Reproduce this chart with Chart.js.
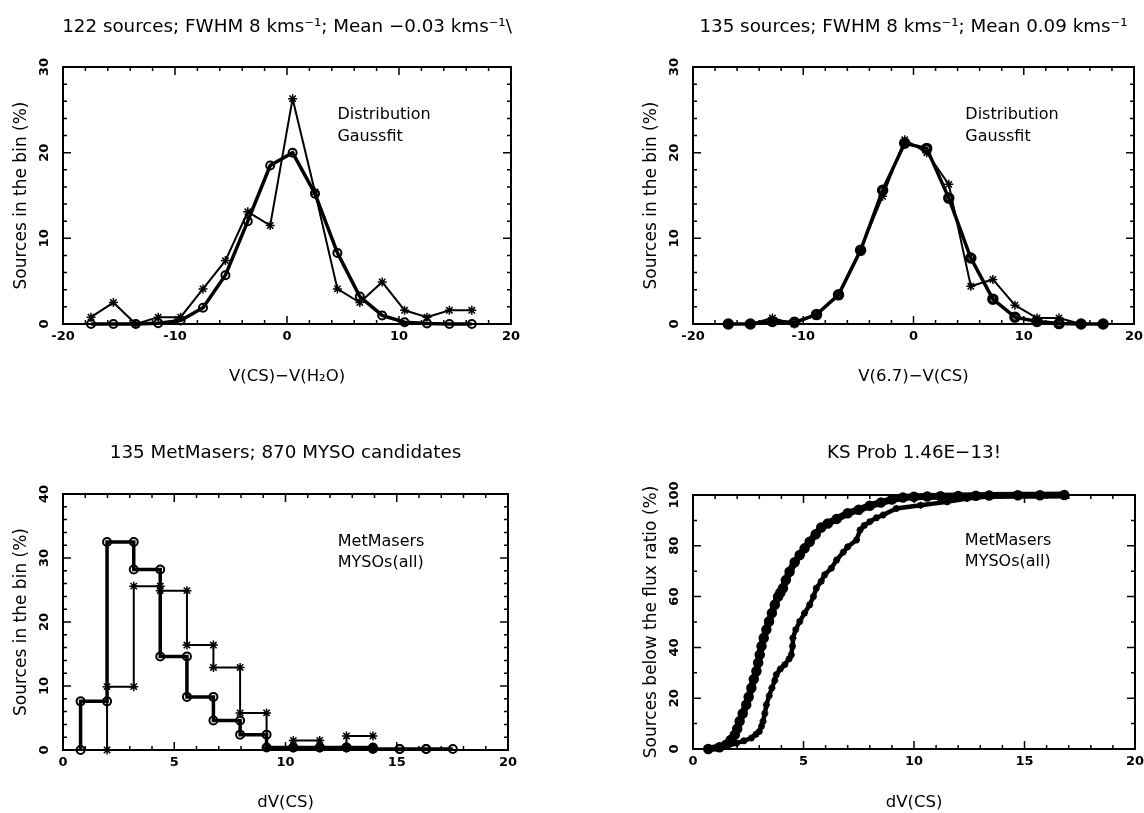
<!DOCTYPE html>
<html>
<head>
<meta charset="utf-8">
<script src="https://cdn.jsdelivr.net/npm/chart.js@4/dist/chart.umd.min.js"></script>
<style>
  html, body { margin: 0; padding: 0; background: #fff; }
  body { width: 1144px; height: 813px; position: relative; overflow: hidden; }
  canvas { position: absolute; }
</style>
</head>
<body>
<canvas id="c1" width="574" height="406" style="left:0px;top:0px"></canvas>
<canvas id="c2" width="567" height="406" style="left:630px;top:0px"></canvas>
<canvas id="c3" width="571" height="407" style="left:0px;top:406px"></canvas>
<canvas id="c4" width="568" height="407" style="left:630px;top:406px"></canvas>
<script>
// ---------------- DATA ----------------
// Panel 1: V(CS)-V(H2O)
const P1_TITLE = "122 sources; FWHM 8 kms\u207B\u00B9; Mean \u22120.03 kms\u207B\u00B9\\";
const P1_XLABEL = "V(CS)\u2212V(H\u2082O)";
const P1_BINS = [-17.5, -15.5, -13.5, -11.5, -9.5, -7.5, -5.5, -3.5, -1.5, 0.5, 2.5, 4.5, 6.5, 8.5, 10.5, 12.5, 14.5, 16.5];
const P1_DIST = [0.8, 2.5, 0, 0.8, 0.8, 4.1, 7.4, 13.1, 11.5, 26.3, 15.4, 4.1, 2.5, 4.9, 1.6, 0.8, 1.6, 1.6];
const P1_GAUSS = [0, 0, 0, 0.1, 0.4, 1.9, 5.7, 12.0, 18.5, 20.0, 15.2, 8.3, 3.2, 1.0, 0.2, 0.05, 0, 0];
const P1_XTICKS = [-20, -10, 0, 10, 20];
const P1_YTICKS = [0, 10, 20, 30];

// Panel 2: V(6.7)-V(CS)
const P2_TITLE = "135 sources; FWHM 8 kms\u207B\u00B9; Mean 0.09 kms\u207B\u00B9";
const P2_XLABEL = "V(6.7)\u2212V(CS)";
const P2_BINS = [-16.8, -14.8, -12.8, -10.8, -8.8, -6.8, -4.8, -2.8, -0.8, 1.2, 3.2, 5.2, 7.2, 9.2, 11.2, 13.2, 15.2, 17.2];
const P2_DIST = [0, 0, 0.7, 0, 1.1, 3.5, 8.7, 14.9, 21.5, 20.0, 16.3, 4.4, 5.2, 2.2, 0.7, 0.7, 0, 0];
const P2_GAUSS = [0, 0, 0.3, 0.2, 1.1, 3.4, 8.6, 15.6, 21.1, 20.5, 14.7, 7.7, 2.9, 0.8, 0.3, 0.05, 0, 0];
const P2_XTICKS = [-20, -10, 0, 10, 20];
const P2_YTICKS = [0, 10, 20, 30];

// Panel 3: histogram of dV(CS)
const P3_TITLE = "135 MetMasers; 870 MYSO candidates";
const P3_XLABEL = "dV(CS)";
const P3_MET_EDGES = [0.79, 1.98, 3.18, 4.37, 5.57, 6.76, 7.96, 9.15, 10.35, 11.54, 12.74, 13.93, 15.13, 16.32, 17.52];
const P3_MET_VALS = [7.6, 32.5, 28.2, 14.6, 8.3, 4.6, 2.4, 0.4, 0.4, 0.4, 0.4, 0.15, 0.15, 0.15];
const P3_MYSO_EDGES = [1.98, 3.18, 4.37, 5.57, 6.76, 7.96, 9.15, 10.35, 11.54, 12.74, 13.93];
const P3_MYSO_VALS = [9.9, 25.6, 24.9, 16.4, 12.9, 5.8, 0.4, 1.5, 0.4, 2.2];
const P3_XTICKS = [0, 5, 10, 15, 20];
const P3_YTICKS = [0, 10, 20, 30, 40];

// Panel 4: cumulative distributions of dV(CS)
const P4_TITLE = "KS Prob 1.46E\u221213!";
const P4_XLABEL = "dV(CS)";
const P4_MET_X = [0.69, 1.2, 1.5, 1.7, 1.89, 2.0, 2.11, 2.25, 2.41, 2.52, 2.64, 2.75, 2.87, 2.95, 3.02, 3.1, 3.2, 3.32, 3.44, 3.57, 3.7, 3.85, 3.95, 4.07, 4.2, 4.37, 4.6, 4.83, 5.05, 5.28, 5.55, 5.8, 6.1, 6.5, 7.0, 7.5, 8.0, 8.5, 9.0, 9.5, 10.0, 10.6, 11.2, 12.0, 12.8, 13.4, 14.7, 15.7, 16.8];
const P4_MET_Y = [0, 0.7, 1.7, 3.5, 5.6, 8.0, 10.9, 14.0, 17.4, 20.5, 24.0, 27.5, 30.6, 34.0, 37.1, 40.5, 43.7, 47.0, 50.2, 53.5, 56.8, 60.0, 61.5, 63.3, 66.5, 69.8, 73.5, 76.4, 79.0, 81.6, 84.5, 87.2, 88.8, 90.6, 92.8, 94.2, 95.8, 97.0, 98.2, 99.0, 99.3, 99.4, 99.5, 99.6, 99.7, 99.8, 99.9, 99.9, 100];
const P4_MYSO_X = [1.07, 1.5, 1.97, 2.3, 2.64, 2.85, 3.0, 3.1, 3.17, 3.25, 3.32, 3.45, 3.57, 3.7, 3.77, 3.95, 4.15, 4.35, 4.45, 4.5, 4.52, 4.65, 4.83, 5.05, 5.28, 5.45, 5.58, 5.8, 5.96, 6.26, 6.5, 6.8, 7.0, 7.4, 7.56, 7.75, 8.0, 8.3, 8.6, 9.2, 10.3, 11.5, 12.4, 13.4];
const P4_MYSO_Y = [0.3, 1.0, 2.3, 3.2, 4.3, 5.8, 6.9, 9.0, 10.9, 14.0, 17.4, 21.0, 24.0, 27.0, 29.3, 31.5, 33.2, 35.5, 37.1, 40.5, 43.7, 47.0, 50.2, 53.5, 56.8, 60.0, 63.3, 66.0, 68.6, 71.2, 74.4, 77.5, 79.6, 82.3, 86.2, 88.0, 89.5, 91.0, 92.1, 94.7, 96.0, 97.3, 98.6, 99.5];
const P4_XTICKS = [0, 5, 10, 15, 20];
const P4_YTICKS = [0, 20, 40, 60, 80, 100];

// ---------------- STYLE / HELPERS ----------------
const FONT = "'DejaVu Sans', sans-serif";
const TICKFONT = "'DejaVu Sans', sans-serif";

function pts(xs, ys) { return xs.map((x, i) => ({ x: x, y: ys[i] })); }
function stepPts(edges, vals) {
  const out = [{ x: edges[0], y: 0 }];
  for (let i = 0; i < vals.length; i++) {
    out.push({ x: edges[i], y: vals[i] });
    out.push({ x: edges[i + 1], y: vals[i] });
  }
  return out;
}

const framePlugin = {
  id: 'frame',
  beforeDatasetsDraw(chart, args, o) {
    const { ctx, chartArea: a } = chart;
    const xs = chart.scales.x, ys = chart.scales.y;
    ctx.save();
    ctx.strokeStyle = '#000';
    ctx.lineWidth = 1.5;
    const nx = Math.round((xs.max - xs.min) / o.xMinor);
    for (let i = 0; i <= nx; i++) {
      const v = xs.min + i * o.xMinor;
      const major = o.xTicks.some(t => Math.abs(t - v) < 1e-6);
      const len = major ? 8 : 4;
      const px = xs.getPixelForValue(v);
      ctx.beginPath();
      ctx.moveTo(px, a.bottom); ctx.lineTo(px, a.bottom - len);
      ctx.moveTo(px, a.top); ctx.lineTo(px, a.top + len);
      ctx.stroke();
    }
    const ny = Math.round((ys.max - ys.min) / o.yMinor);
    for (let i = 0; i <= ny; i++) {
      const v = ys.min + i * o.yMinor;
      const major = o.yTicks.some(t => Math.abs(t - v) < 1e-6);
      const len = major ? 8 : 4;
      const py = ys.getPixelForValue(v);
      ctx.beginPath();
      ctx.moveTo(a.left, py); ctx.lineTo(a.left + len, py);
      ctx.moveTo(a.right, py); ctx.lineTo(a.right - len, py);
      ctx.stroke();
    }
    ctx.lineWidth = 2;
    ctx.strokeRect(a.left, a.top, a.right - a.left, a.bottom - a.top);
    // rotated y tick labels
    ctx.fillStyle = '#000';
    ctx.font = "bold 13px " + TICKFONT;
    ctx.textAlign = 'center';
    ctx.textBaseline = 'middle';
    for (const t of o.yTicks) {
      const py = ys.getPixelForValue(t);
      ctx.save();
      ctx.translate(a.left - o.yLabelGap, py);
      ctx.rotate(-Math.PI / 2);
      ctx.fillText(String(t), 0, 0);
      ctx.restore();
    }
    ctx.restore();
  },
  afterDraw(chart, args, o) {
    const { ctx } = chart;
    const xs = chart.scales.x, ys = chart.scales.y;
    ctx.save();
    ctx.fillStyle = '#000';
    ctx.font = o.legendFont;
    ctx.textAlign = 'left';
    ctx.textBaseline = 'middle';
    o.legend.forEach((txt, i) => {
      ctx.fillText(txt, xs.getPixelForValue(o.legendX), ys.getPixelForValue(o.legendY[i]));
    });
    ctx.restore();
  }
};

function makeChart(id, c) {
  const TFS = 18.3, TLH = TFS * 1.2;
  return new Chart(document.getElementById(id), {
    type: 'line',
    data: { datasets: c.datasets },
    plugins: [framePlugin],
    options: {
      responsive: false,
      devicePixelRatio: 1,
      animation: false,
      events: [],
      layout: { padding: 0 },
      plugins: {
        legend: { display: false },
        tooltip: { enabled: false },
        title: {
          display: true,
          text: c.title,
          color: '#000',
          font: { family: FONT, size: TFS, weight: 'normal', lineHeight: 1.2 },
          padding: { top: c.titleCenter - TLH / 2, bottom: c.areaTop - c.titleCenter - TLH / 2 }
        },
        frame: {
          xMinor: c.xMinor, yMinor: c.yMinor, xTicks: c.xTicks, yTicks: c.yTicks,
          yLabelGap: 18,
          legend: c.legend, legendX: c.legendX, legendY: c.legendY,
          legendFont: "16px " + FONT
        }
      },
      scales: {
        x: {
          type: 'linear',
          min: c.xTicks[0], max: c.xTicks[c.xTicks.length - 1],
          afterBuildTicks: s => { s.ticks = c.xTicks.map(v => ({ value: v })); },
          afterFit: s => { s.height = c.xScaleH; },
          grid: { display: false, drawTicks: false },
          border: { display: false },
          ticks: {
            color: '#000', padding: 5, maxRotation: 0, autoSkip: false,
            font: { family: TICKFONT, size: 13, weight: 'bold' },
            callback: v => String(v)
          },
          title: {
            display: true, text: c.xLabel, color: '#000',
            font: { family: FONT, size: 16.5, lineHeight: 1.2 },
            padding: { top: 0, bottom: c.xTitlePadB }
          }
        },
        y: {
          type: 'linear',
          min: c.yTicks[0], max: c.yTicks[c.yTicks.length - 1],
          afterFit: s => { s.width = 63; },
          grid: { display: false, drawTicks: false },
          border: { display: false },
          ticks: { display: false },
          title: {
            display: true, text: c.yLabel, color: '#000',
            font: { family: FONT, size: 17, lineHeight: 1.2 },
            padding: { top: 11, bottom: 0 }
          }
        },
        yR: {
          type: 'linear', position: 'right',
          min: c.yTicks[0], max: c.yTicks[c.yTicks.length - 1],
          afterFit: s => { s.width = c.rightW; },
          grid: { display: false, drawTicks: false },
          border: { display: false },
          ticks: { display: false }
        }
      }
    }
  });
}

function thinStar(data) {
  return { data: data, borderColor: '#000', borderWidth: 2, pointStyle: 'star', pointRadius: 4.5,
           pointBorderWidth: 1.5, pointBorderColor: '#000', pointBackgroundColor: '#000', tension: 0, clip: false };
}
function thickCircle(data, bw, pbw) {
  return { data: data, borderColor: '#000', borderWidth: bw, pointStyle: 'circle', pointRadius: 4,
           pointBorderWidth: pbw, pointBorderColor: '#000', pointBackgroundColor: 'rgba(0,0,0,0)', tension: 0, clip: false };
}

// Panel 1
makeChart('c1', {
  title: P1_TITLE, xLabel: P1_XLABEL, yLabel: 'Sources in the bin (%)',
  xTicks: P1_XTICKS, yTicks: P1_YTICKS, xMinor: 2, yMinor: 2,
  rightW: 63, titleCenter: 27, areaTop: 67, xScaleH: 82, xTitlePadB: 19,
  legend: ['Distribution', 'Gaussfit'], legendX: 4.5, legendY: [24.4, 21.9],
  datasets: [thinStar(pts(P1_BINS, P1_DIST)), thickCircle(pts(P1_BINS, P1_GAUSS), 3.5, 2)]
});

// Panel 2
makeChart('c2', {
  title: P2_TITLE, xLabel: P2_XLABEL, yLabel: 'Sources in the bin (%)',
  xTicks: P2_XTICKS, yTicks: P2_YTICKS, xMinor: 2, yMinor: 2,
  rightW: 63, titleCenter: 27, areaTop: 67, xScaleH: 82, xTitlePadB: 19,
  legend: ['Distribution', 'Gaussfit'], legendX: 4.7, legendY: [24.4, 21.9],
  datasets: [thinStar(pts(P2_BINS, P2_DIST)), thickCircle(pts(P2_BINS, P2_GAUSS), 3.5, 3.5)]
});

// Panel 3
makeChart('c3', {
  title: P3_TITLE, xLabel: P3_XLABEL, yLabel: 'Sources in the bin (%)',
  xTicks: P3_XTICKS, yTicks: P3_YTICKS, xMinor: 1, yMinor: 2,
  rightW: 63, titleCenter: 47, areaTop: 88, xScaleH: 63, xTitlePadB: 0,
  legend: ['MetMasers', 'MYSOs(all)'], legendX: 12.35, legendY: [32.5, 29.2],
  datasets: [thinStar(stepPts(P3_MYSO_EDGES, P3_MYSO_VALS)), thickCircle(stepPts(P3_MET_EDGES, P3_MET_VALS), 3.5, 2)]
});

// Panel 4
const p4Met = thickCircle(pts(P4_MET_X, P4_MET_Y), 7, 2.5);
p4Met.pointRadius = 4;
p4Met.pointBackgroundColor = '#000';
const p4Myso = thinStar(pts(P4_MYSO_X, P4_MYSO_Y));
p4Myso.borderWidth = 4.5; p4Myso.pointRadius = 3.5; p4Myso.pointBorderWidth = 2;
makeChart('c4', {
  title: P4_TITLE, xLabel: P4_XLABEL, yLabel: 'Sources below the flux ratio (%)',
  xTicks: P4_XTICKS, yTicks: P4_YTICKS, xMinor: 1, yMinor: 10,
  rightW: 63, titleCenter: 47, areaTop: 89, xScaleH: 64, xTitlePadB: 0,
  legend: ['MetMasers', 'MYSOs(all)'], legendX: 12.3, legendY: [82, 73.7],
  datasets: [p4Myso, p4Met]
});
</script>
</body>
</html>
